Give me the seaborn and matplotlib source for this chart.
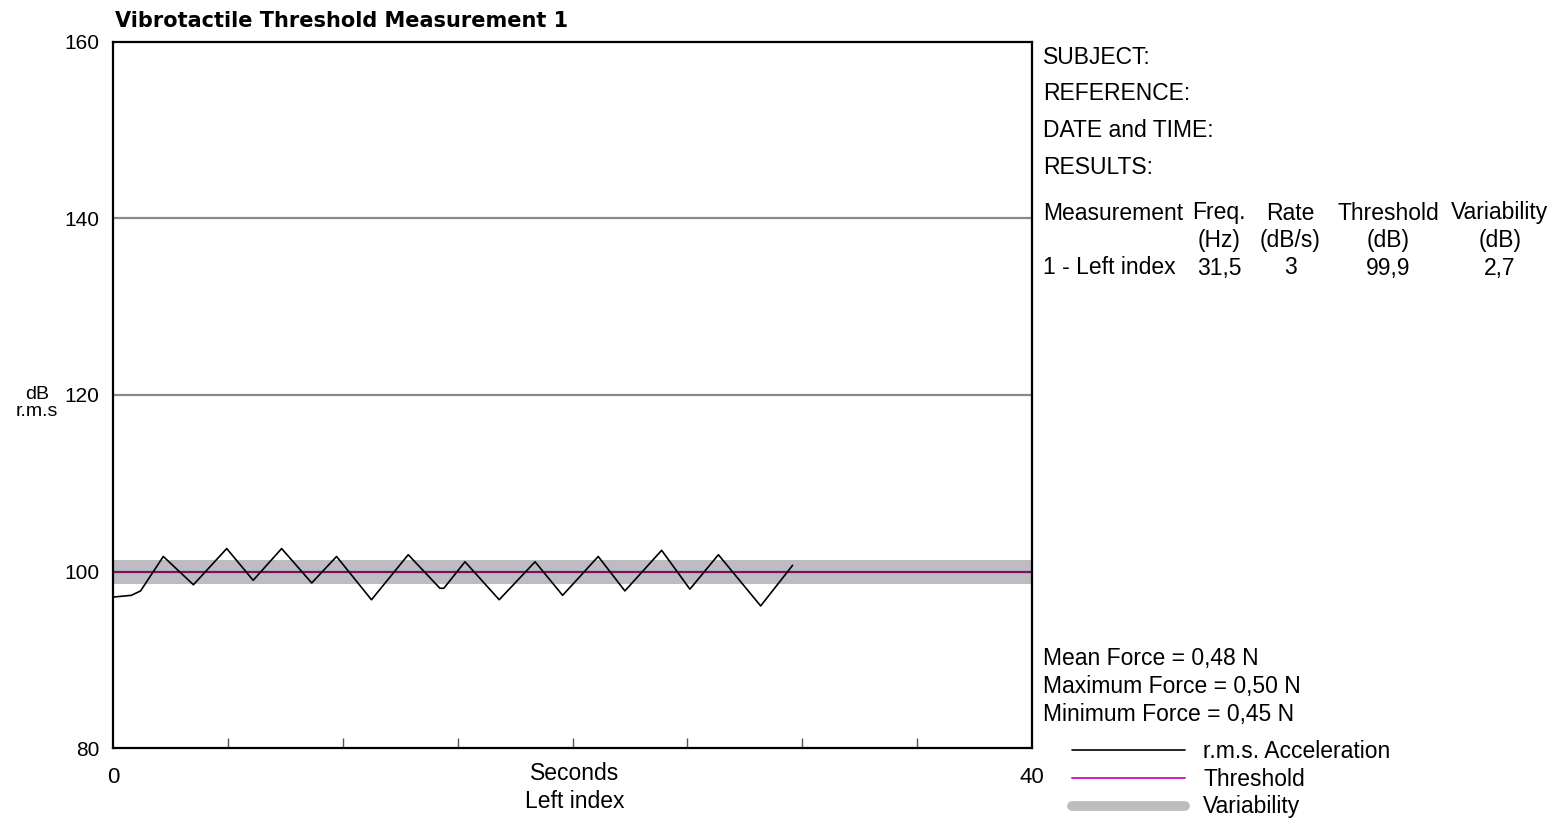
import matplotlib
matplotlib.use("Agg")
import matplotlib.pyplot as plt
import seaborn as sns
import pandas as pd
from matplotlib.lines import Line2D

# ---- data ----
time_s = [0.0, 0.4, 0.8, 1.2, 2.19, 3.5, 4.95, 6.1, 7.34, 8.65, 9.73, 11.25, 12.85,
          14.23, 14.4, 15.32, 16.81, 18.37, 19.57, 21.12, 22.28, 23.88, 25.11,
          26.35, 28.19, 29.58]
accel_db = [97.1, 97.2, 97.3, 97.8, 101.7, 98.5, 102.6, 99.0, 102.6, 98.7, 101.7, 96.8, 101.9,
            98.1, 98.1, 101.1, 96.8, 101.1, 97.3, 101.7, 97.8, 102.4, 98.0,
            101.9, 96.1, 100.7]
threshold_db = 99.9
variability_db = 2.7
y_ticks = [80, 100, 120, 140, 160]
x_tick_labels = ["0", "40"]
gridlines_db = [120, 140]

header = ["Measurement", "Freq.", "Rate", "Threshold", "Variability"]
units = ["", "(Hz)", "(dB/s)", "(dB)", "(dB)"]
values = ["1 - Left index", "31,5", "3", "99,9", "2,7"]
info_labels = ["SUBJECT:", "REFERENCE:", "DATE and TIME:", "RESULTS:"]
force_lines = ["Mean Force = 0,48 N", "Maximum Force = 0,50 N", "Minimum Force = 0,45 N"]
legend_labels = ["r.m.s. Acceleration", "Threshold", "Variability"]

sns.set_theme(style="white")
plt.rcParams['font.family'] = ['Liberation Sans', 'DejaVu Sans']

W, H = 1556, 819
fig = plt.figure(figsize=(W / 100, H / 100), dpi=100)
fig.patch.set_facecolor("white")
ax = fig.add_axes([113 / W, 1 - 748 / H, (1032 - 113) / W, (748 - 42) / H])

df = pd.DataFrame({"t": time_s, "db": accel_db})
thr_color = "#7a1060"
band_color = "#bcbcc2"

ax.axhspan(threshold_db - variability_db / 2, threshold_db + variability_db / 2,
           color=band_color, lw=0, zorder=1)
for g in gridlines_db:
    ax.axhline(g, color="#8a8a8a", lw=1.6, zorder=1)
ax.axhline(threshold_db, color=thr_color, lw=1.6, zorder=2)
sns.lineplot(data=df, x="t", y="db", ax=ax, color="black", lw=1.2, zorder=3)

ax.set_xlim(0, 40)
ax.set_ylim(80, 160)
ax.set_yticks(y_ticks)
ax.set_yticklabels([str(v) for v in y_ticks], fontsize=15, color="black")
ax.set_xticks([0, 40])
ax.set_xticklabels(x_tick_labels, fontsize=16, color="black")
ax.set_xticks(list(range(5, 40, 5)), minor=True)
ax.tick_params(axis="x", which="minor", bottom=True, direction="in", length=7, width=1.0, color="#555555")
ax.tick_params(axis="x", which="major", bottom=True, length=0, pad=14)
ax.tick_params(axis="y", which="major", length=0, pad=10)
ax.set_xlabel("")
ax.set_ylabel("")
for s in ax.spines.values():
    s.set_visible(True)
    s.set_color("black")
    s.set_linewidth(1.6)

fs = 16.5
def ftext(x, y, s, **kw):
    kw.setdefault("fontsize", fs)
    kw.setdefault("color", "black")
    fig.text(x / W, 1 - y / H, s, va="center", **kw)

ftext(115, 21, "Vibrotactile Threshold Measurement 1", ha="left", fontweight="bold",
      family=['DejaVu Sans'], fontsize=15)
ftext(37, 403, "dB\nr.m.s", ha="center", linespacing=1.0, fontsize=14)
ftext(575, 773, "Seconds", ha="center")
ftext(575, 801, "Left index", ha="center")

for i, s in enumerate(info_labels):
    ftext(1043, 57 + i * 36.7, s, ha="left")

col_x = [1043, 1219, 1290, 1388, 1500]
for i in range(5):
    ha = "left" if i == 0 else "center"
    ftext(col_x[i], 213, header[i], ha=ha)
    if units[i]:
        ftext(col_x[i], 241, units[i], ha=ha)
    ftext(col_x[i], 268, values[i], ha=ha)

for i, s in enumerate(force_lines):
    ftext(1043, 659 + i * 27.5, s, ha="left")

leg_y = [750, 778, 806]
styles = [dict(color="black", lw=1.2), dict(color="#d020c0", lw=1.4), dict(color="#bdbdbd", lw=7, solid_capstyle="round")]
for y, st, lab in zip(leg_y, styles, legend_labels):
    fig.add_artist(Line2D([1072 / W, 1185 / W], [1 - y / H, 1 - y / H], transform=fig.transFigure, **st))
    ftext(1203, y + 1, lab, ha="left")

fig.savefig("out.png", dpi=100, facecolor="white")
